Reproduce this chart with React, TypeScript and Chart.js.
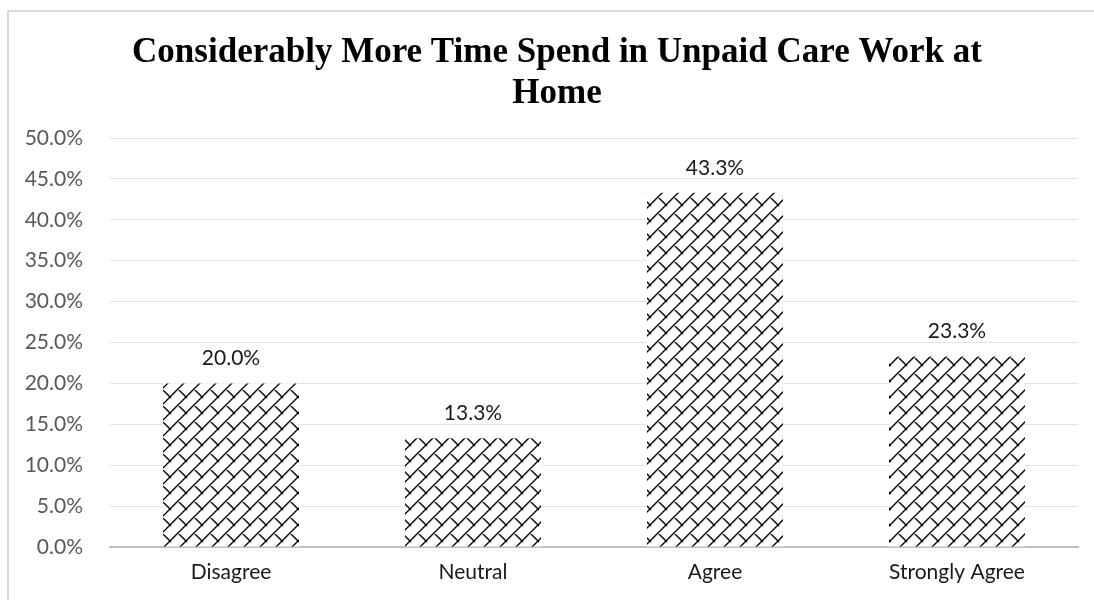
import React, { useEffect, useRef } from "react";
import { Chart, registerables } from "chart.js";

Chart.register(...registerables);

const categories: string[] = ["Disagree", "Neutral", "Agree", "Strongly Agree"];
const shares: number[] = [20.0, 13.3, 43.3, 23.3];
const titleLines: string[] = ["Considerably More Time Spend in Unpaid Care Work at", "Home"];
const yMax = 50;
const yStep = 5;

const labelFont = "Lato, 'Open Sans', sans-serif";
const titleFont = "'Liberation Serif', 'Times New Roman', serif";

// Shingle-like hatch: long "/" strokes with short "\" connectors forming staggered bricks.
function makeShinglePattern(ctx: CanvasRenderingContext2D): CanvasPattern | string {
  const size = 16;
  const tile = document.createElement("canvas");
  tile.width = size;
  tile.height = size;
  const t = tile.getContext("2d");
  if (!t) return "#000";
  t.fillStyle = "#ffffff";
  t.fillRect(0, 0, size, size);
  t.strokeStyle = "#000000";
  t.lineWidth = 1.4;
  t.lineCap = "square";
  t.beginPath();
  t.moveTo(-2, size + 2);
  t.lineTo(size + 2, -2);
  t.moveTo(-2, 2);
  t.lineTo(2, -2);
  t.moveTo(size - 2, size + 2);
  t.lineTo(size + 2, size - 2);
  t.moveTo(size / 2, size / 2);
  t.lineTo(size + 1, size + 1);
  t.moveTo(-1, -1);
  t.lineTo(0.5, 0.5);
  t.stroke();
  return ctx.createPattern(tile, "repeat") || "#000";
}

const titlePlugin = {
  id: "twoLineTitle",
  afterDraw(chart: any) {
    const { ctx } = chart;
    ctx.save();
    ctx.fillStyle = "#000000";
    ctx.font = `bold 35px ${titleFont}`;
    ctx.textAlign = "center";
    ctx.textBaseline = "alphabetic";
    const cx = 547;
    ctx.fillText(titleLines[0], cx, 49);
    ctx.fillText(titleLines[1], cx, 90);
    ctx.restore();
  },
};

const valueLabelPlugin = {
  id: "valueLabels",
  afterDatasetsDraw(chart: any) {
    const { ctx } = chart;
    const meta = chart.getDatasetMeta(0);
    ctx.save();
    ctx.fillStyle = "#1a1a1a";
    ctx.font = `21px ${labelFont}`;
    ctx.textAlign = "center";
    ctx.textBaseline = "alphabetic";
    meta.data.forEach((bar: any, i: number) => {
      ctx.fillText(`${shares[i].toFixed(1)}%`, bar.x, bar.y - 18);
    });
    ctx.restore();
  },
};

export default function App() {
  const canvasRef = useRef<HTMLCanvasElement | null>(null);

  useEffect(() => {
    document.documentElement.style.overflow = "hidden";
    document.body.style.overflow = "hidden";
    const canvas = canvasRef.current;
    if (!canvas) return;
    const ctx = canvas.getContext("2d");
    if (!ctx) return;
    const pattern = makeShinglePattern(ctx);

    const chart = new Chart(canvas, {
      type: "bar",
      data: {
        labels: categories,
        datasets: [
          {
            data: shares,
            backgroundColor: pattern as any,
            borderWidth: 0,
            barPercentage: 0.562,
            categoryPercentage: 1,
          },
        ],
      },
      options: {
        animation: false,
        responsive: false,
        maintainAspectRatio: false,
        layout: { padding: { left: 0, right: 16, top: 125, bottom: 0 } },
        plugins: {
          legend: { display: false },
          title: { display: false },
          tooltip: { enabled: false },
        },
        scales: {
          x: {
            offset: true,
            grid: { display: false, drawTicks: false },
            border: { display: true, color: "#bfbfbf", width: 2 },
            ticks: {
              color: "#1a1a1a",
              font: { family: labelFont, size: 21 },
              padding: 13,
              maxRotation: 0,
              autoSkip: false,
            },
            afterFit(scale: any) {
              scale.height = 53;
            },
          },
          y: {
            min: 0,
            max: yMax,
            border: { display: false },
            grid: {
              color: (c: any) => (c.tick && c.tick.value === 0 ? "rgba(0,0,0,0)" : "#e3e3e3"),
              lineWidth: 1,
              drawTicks: false,
            },
            ticks: {
              stepSize: yStep,
              color: "#595959",
              font: { family: labelFont, size: 21 },
              padding: 27,
              callback: (v: any) => `${Number(v).toFixed(1)}%`,
            },
            afterFit(scale: any) {
              scale.width = 100;
            },
          },
        },
      },
      plugins: [titlePlugin, valueLabelPlugin],
    });

    return () => {
      chart.destroy();
    };
  }, []);

  return (
    <div
      style={{
        position: "fixed",
        left: 0,
        top: 0,
        width: 1094,
        height: 600,
        overflow: "hidden",
        background: "#ffffff",
      }}
    >
      <div
        style={{
          position: "absolute",
          left: 7,
          top: 10,
          width: 1200,
          height: 700,
          borderLeft: "2px solid #d9d9d9",
          borderTop: "2px solid #d9d9d9",
          background: "#ffffff",
        }}
      >
        <canvas
          ref={canvasRef}
          width={1084}
          height={587}
          style={{ position: "absolute", left: 1, top: 1, display: "block" }}
        />
      </div>
    </div>
  );
}
